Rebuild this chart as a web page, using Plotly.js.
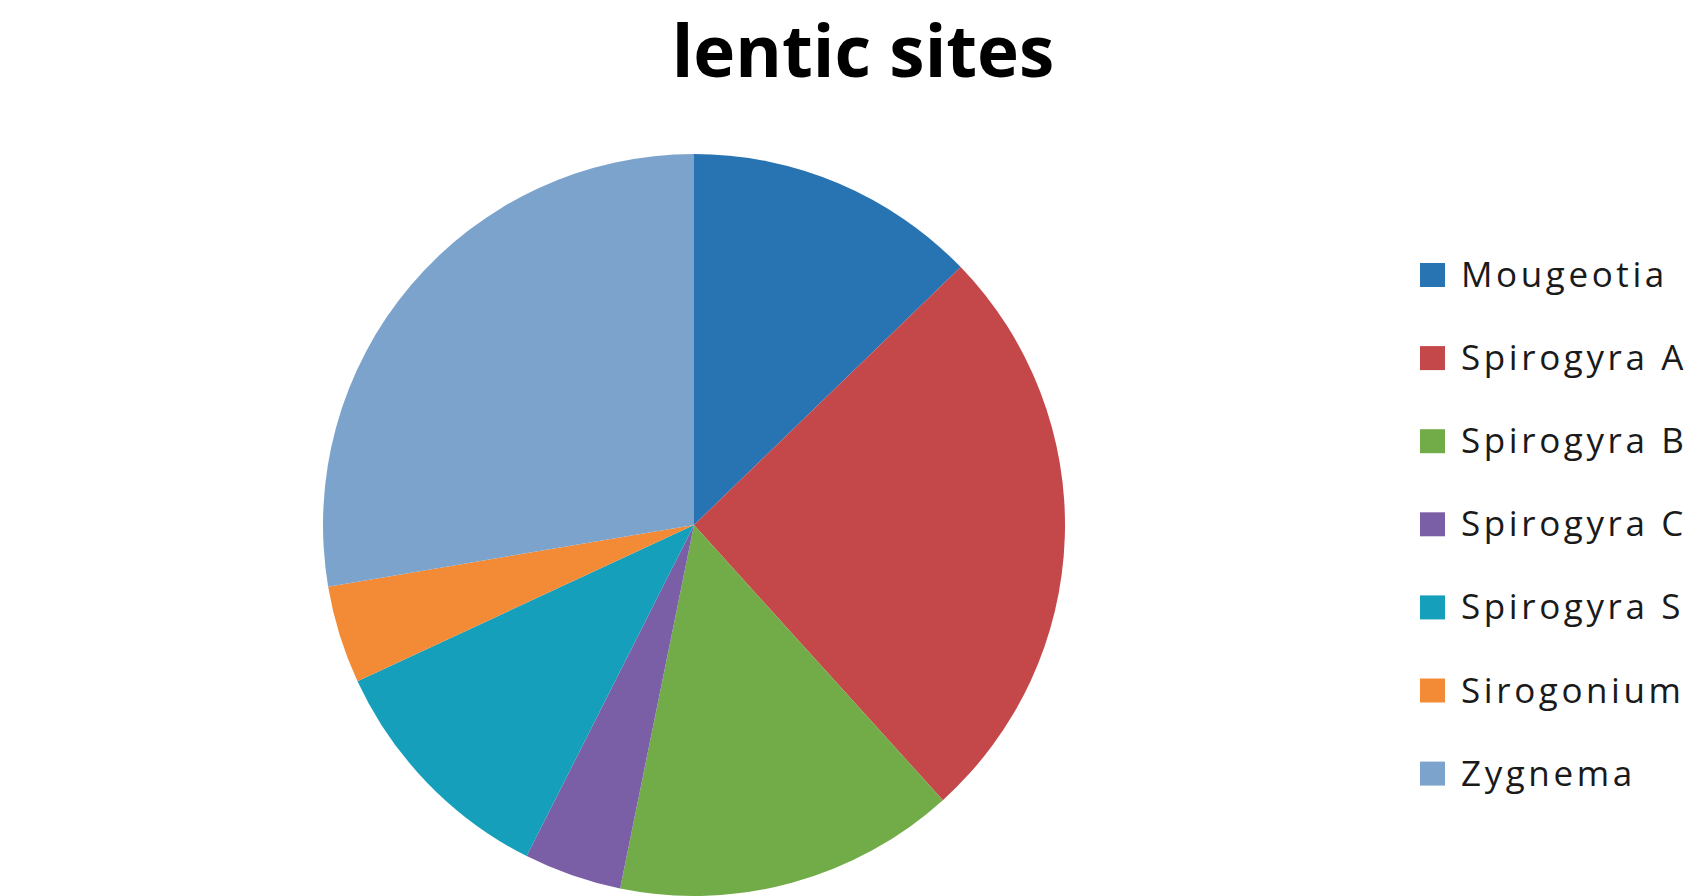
<!DOCTYPE html>
<html>
<head>
<meta charset="utf-8">
<script src="https://cdn.plot.ly/plotly-3.0.1.min.js"></script>
<style>
  html, body { margin: 0; padding: 0; background: #ffffff; }
  #chart { width: 1688px; height: 896px; }
</style>
</head>
<body>
<div id="chart"></div>
<script>
// ---- data ----
const chartTitle = 'lentic sites';
const labels = ['Mougeotia', 'Spirogyra A', 'Spirogyra B', 'Spirogyra C', 'Spirogyra S', 'Sirogonium', 'Zygnema'];
const values = [6, 12, 7, 2, 5, 2, 13];
const colors = ['#2873B2', '#C4474A', '#71AC49', '#7B5FA6', '#169FBA', '#F38A35', '#7CA3CC'];

// ---- layout constants ----
const W = 1688, H = 896;
const cx = 694, cy = 525, r = 371;

const legendTop = 273.5, legendStep = 83.1;
const shapes = labels.map((lab, i) => {
  const y = legendTop + 1.5 + i * legendStep;
  return {
    type: 'rect', xref: 'paper', yref: 'paper',
    x0: 1420 / W, x1: 1445 / W,
    y0: 1 - (y + 12) / H, y1: 1 - (y - 12) / H,
    fillcolor: colors[i], line: { width: 0 }
  };
});
const annotations = labels.map((lab, i) => {
  const y = legendTop + i * legendStep;
  return {
    xref: 'paper', yref: 'paper',
    x: 1459 / W, y: 1 - y / H,
    xanchor: 'left', yanchor: 'middle',
    showarrow: false,
    text: '<span style="letter-spacing:3.6px">' + lab + '</span>',
    font: { family: '"Open Sans", sans-serif', size: 35, color: '#1a1a1a' }
  };
});

const trace = {
  type: 'pie',
  labels: labels,
  values: values,
  sort: false,
  direction: 'clockwise',
  rotation: 0,
  marker: { colors: colors, line: { width: 0 } },
  textinfo: 'none',
  hoverinfo: 'label+value+percent',
  domain: { x: [(cx - r) / W, (cx + r) / W], y: [Math.max(0, (H - cy - r) / H), (H - cy + r) / H] },
  showlegend: false
};

const layout = {
  width: W, height: H,
  margin: { l: 0, r: 0, t: 0, b: 0 },
  paper_bgcolor: '#ffffff',
  plot_bgcolor: '#ffffff',
  showlegend: false,
  title: {
    text: chartTitle,
    font: { family: '"Open Sans", sans-serif', size: 71, weight: 700, color: '#000000' },
    x: 863 / W, xanchor: 'center', xref: 'paper',
    y: 1 - 52.5 / H, yanchor: 'middle', yref: 'container'
  },
  shapes: shapes,
  annotations: annotations
};

Plotly.newPlot('chart', [trace], layout, { displayModeBar: false });
</script>
</body>
</html>
